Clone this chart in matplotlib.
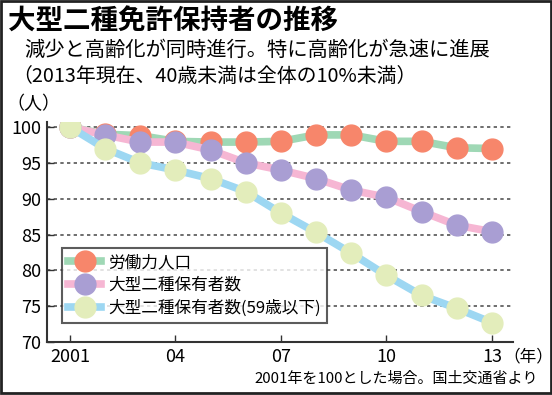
import matplotlib
matplotlib.use('Agg')
import matplotlib.pyplot as plt
from matplotlib.patches import Rectangle

plt.rcParams['font.family'] = ['Noto Sans CJK JP', 'DejaVu Sans']

# data (2001 = 100)
years = [2001, 2002, 2003, 2004, 2005, 2006, 2007, 2008, 2009, 2010, 2011, 2012, 2013]
labor = [100, 99.0, 98.8, 98.0, 97.9, 97.9, 98.0, 98.9, 98.9, 98.0, 98.0, 97.1, 97.0]
holders = [100, 98.9, 97.9, 97.9, 96.8, 95.0, 94.0, 92.8, 91.2, 90.2, 88.2, 86.3, 85.4]
holders59 = [100, 97.0, 95.0, 94.0, 92.8, 91.0, 88.0, 85.3, 82.4, 79.3, 76.5, 74.7, 72.7]
xtick_pos = [2001, 2004, 2007, 2010, 2013]
xtick_lab = ['2001', '04', '07', '10', '13']
ytick_pos = [70, 75, 80, 85, 90, 95, 100]

fig = plt.figure(figsize=(5.52, 3.95), dpi=100)
ax = fig.add_axes([47/552, 53/395, 466/552, 220/395])

series = [
    (labor, '#9fd8b5', '#f7866b', '労働力人口'),
    (holders, '#f6b6d3', '#a99ed3', '大型二種保有者数'),
    (holders59, '#9dd7f2', '#e3edbb', '大型二種保有者数(59歳以下)'),
]
for i, (vals, lc, mc, lab) in enumerate(series):
    ax.plot(years, vals, color=lc, lw=5.5, marker='o', ms=15,
            markerfacecolor=mc, markeredgecolor=mc, label=lab, zorder=3 + i)

for v in ytick_pos[1:]:
    ax.axhline(v, color='#555555', lw=1.2, ls=(0, (2, 2)), zorder=1)

ax.set_xlim(2000.35, 2013.6)
ax.set_ylim(70, 100.7)
ax.set_xticks(xtick_pos)
ax.set_xticklabels(xtick_lab)
ax.set_yticks(ytick_pos)
ax.tick_params(direction='in', length=5, width=1, labelsize=13, color='#333333', pad=4)
for s in ['top', 'right']:
    ax.spines[s].set_visible(False)
for s in ['left', 'bottom']:
    ax.spines[s].set_color('#333333')
    ax.spines[s].set_linewidth(1.5)

leg = ax.legend(loc='lower left', bbox_to_anchor=(0.015, 0.05), fontsize=12,
                handlelength=2.0, frameon=True, fancybox=False,
                borderpad=0.35, labelspacing=0.35, handletextpad=0.4)
leg.get_frame().set_edgecolor('#333333')
leg.get_frame().set_linewidth(1.5)
leg.set_zorder(10)

fig.text(8/552, 1 - 22/395, '大型二種免許保持者の推移', fontsize=19.8, fontweight='bold',
         va='center', ha='left')
fig.text(24/552, 1 - 50/395, '減少と高齢化が同時進行。特に高齢化が急速に進展', fontsize=14.6,
         va='center', ha='left')
fig.text(12/552, 1 - 76/395, '（2013年現在、40歳未満は全体の10%未満）', fontsize=14.3,
         va='center', ha='left')
fig.text(6/552, 1 - 104/395, '（人）', fontsize=13, va='center', ha='left')
fig.text(503/552, 1 - 357/395, '（年）', fontsize=12, va='center', ha='left')
fig.text(538/552, 1 - 379/395, '2001年を100とした場合。国土交通省より', fontsize=10.8,
         va='center', ha='right')

fig.patches.append(Rectangle((0.001, 0.004), 0.997, 0.994, transform=fig.transFigure,
                             fill=False, edgecolor='#222222', lw=2))

fig.savefig('out.png', dpi=100)
